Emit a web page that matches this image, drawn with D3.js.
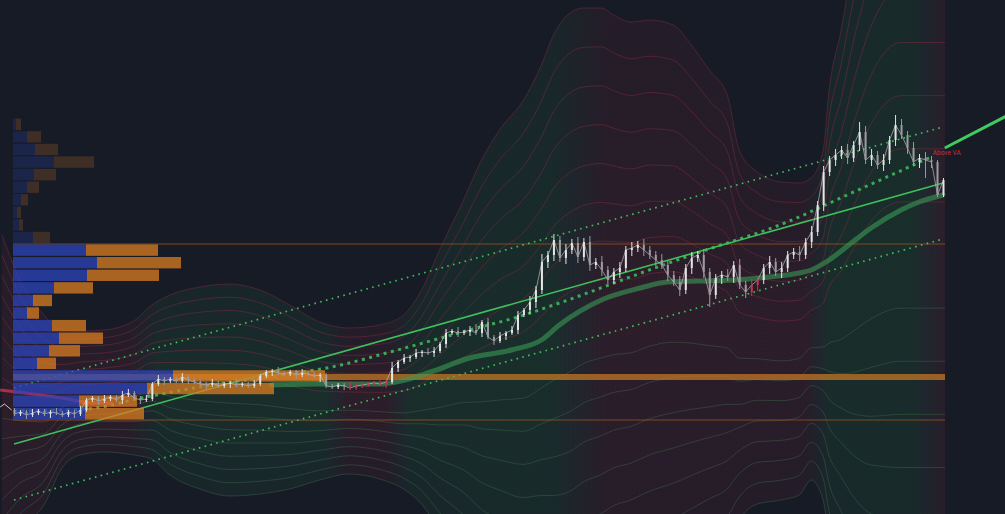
<!DOCTYPE html>
<html>
<head>
<meta charset="utf-8">
<script src="https://cdn.jsdelivr.net/npm/d3@7"></script>
<style>
html, body { margin: 0; padding: 0; background: #171b26; }
svg { display: block; }
</style>
</head>
<body>
<svg id="chart" width="1005" height="514"></svg>
<script>

// price closes, one per bar
var closes = [
	106,108,105,107,109,106,108,107,105,108,106,110,
	120,122,119,121,123,120,125,127,122,120,121,
	136,141,139,141,139,143,140,138,136,135,137,134,136,137,135,136,134,136,144,
	148,149,147,146,148,145,147,146,144,145,
	134,133,135,134,132,134,135,136,137,136,138,
	152,158,
	162,163,167,168,167,169,176,187,189,187,188,190,187,198,183,179,184,187,190,205,210,218,230,
	258,265,280,262,270,277,263,278,255,258,250,240,248,252,270,272,275,270,265,260,255,245,238,230,
	252,262,265,248,225,242,245,243,255,235,228,235,240,252,258,248,252,265,268,265,278,288,315,348,
	360,365,370,362,375,388,360,365,355,360,380,395,385,372,358,362,360,358,325,340
];
// wick lengths above / below the body (one digit per bar)
var wickUp = "1112111211121112112211212111211112111211" +
	"2111211121111111211112131212122121212312" +
	"1212213242323232323223232322322323232223" +
	"2323223232232323232325332325323232";
var wickDn = "1121112111211121112112111211121121112111" +
	"1112111211131112111111212121212121212121" +
	"2121212323323232323223232323232323236232" +
	"3232323232232323232323232323232393";
var redBars = [56,57,58,59,60,61,62,123,124];

// price before the first bar
var preIdx = [-2.3, -1.6, -1.0, -0.4];
var preVal = [113, 116, 113, 110];

// envelope: basis and half width
var bandIdx = [-2,1,5,8,11,15,20,23,26,31,36,41,46,51,56,61,65,68,71,75,78,81,85,88,90,93,95,98,100,103,106,110,113,116,119,121,124,128,131,133,135,136,138,140,143,148,156];
var bandMid = [122,115,110,121,127,129,132,138,135,132,130,128,123,119,119,118,118,123,130,140,145,150,155,168,178,189,196,201,203,204,210,213,210,205,200,185,182,179,181,191,195,205,215,230,250,265,265];
var bandW   = [163,125,95,69,62,61,67,77,90,101,106,102,92,79,73,77,87,107,140,180,215,240,265,287,307,319,316,311,302,294,290,282,265,245,225,185,166,159,156,151,175,225,275,330,390,425,425];
var bandLevels = 8;

// trend regime behind the envelope (1 = bull, 0 = bear)
var regimeAt   = [-2,19,24,52,56,62,66,90,99,132,136,150,156];
var regimeBull = [0,0,1,1,0,0,1,1,0,0,1,1,0];

// volume profile rows, bottom to top
var profLow = 100, profHigh = 402;
var profBuy  = [72,66,134,160,24,36,46,39,14,20,41,74,84,73,20,6,4,8,14,21,41,22,14,3];
var profSell = [59,58,127,152,19,31,44,34,12,19,39,72,84,72,17,4,4,7,12,22,40,23,14,5];
var vaLow = 100, vaHigh = 276, poc = 143;

// regression channel
var regStart = 76, regEnd = 337, regDev = 56;

// anchored average (dotted) and its projection
var vwIdx = [0,12,22,31,42,53,64,76,84,91,106,114,129,139,153];
var vwVal = [109,111,123,133,143,153,170,190,203,217,250,267,298,325,363];
var projIdx = [155.3, 165.6];
var projVal = [372, 404];

// slow moving average
var maIdx = [43,51,61,64.5,69.5,76,83,88,91,98,104.5,109,114.5,120,126,131,133,136,139.5,143,148,151,155];
var maVal = [135,136,136,139,148,162,170,180,195,220,232,238,239,240,243,247,250,260,276,292,310,318,325];

// red average on the left
var redIdx = [-2.3, 3.3, 9, 13, 16.5];
var redVal = [130, 126, 121, 117, 117];


var W = 1005, H = 514, plotRight = 945;
var svg = d3.select('#chart');

var x = d3.scaleLinear().domain([0, 155]).range([14, 943]);
var y = d3.scaleLinear().domain([0, 520]).range([520, 0]);
var vol = d3.scaleLinear().domain([0, 320]).range([13, 333]);

svg.append('rect').attr('width', W).attr('height', H).attr('fill', '#171b26');

var defs = svg.append('defs');
defs.append('clipPath').attr('id', 'plot')
	.append('rect').attr('x', 0).attr('y', 0).attr('width', plotRight).attr('height', H);

// horizontal gradient following the regime
var gx0 = x(regimeAt[0]), gx1 = x(regimeAt[regimeAt.length - 1]);
var grad = defs.append('linearGradient').attr('id', 'regime')
	.attr('gradientUnits', 'userSpaceOnUse')
	.attr('x1', gx0).attr('x2', gx1).attr('y1', 0).attr('y2', 0);
regimeAt.forEach(function(r, i){
	grad.append('stop')
		.attr('offset', (x(r) - gx0) / (gx1 - gx0))
		.attr('stop-color', regimeBull[i] ? 'rgb(45,170,95)' : 'rgb(190,45,75)');
});

var band = bandIdx.map(function(d, i){ return { i: d, c: bandMid[i], w: bandW[i] }; });

var bandG = svg.append('g').attr('clip-path', 'url(#plot)');

// fills, outer one first
for (var k = bandLevels; k >= 1; k--) {
	(function(k){
		var area = d3.area()
			.x(function(d){ return x(d.i) })
			.y0(function(d){ return y(d.c - d.w * k / bandLevels) })
			.y1(function(d){ return y(d.c + d.w * k / bandLevels) })
			.curve(d3.curveMonotoneX);
		bandG.append('path').datum(band)
			.attr('d', area)
			.attr('fill', 'url(#regime)')
			.attr('fill-opacity', k == bandLevels ? 0.08 : 0.007);
	})(k);
}
// contour lines
for (var k = 1; k <= bandLevels; k++) {
	(function(k){
		var up = d3.line()
			.x(function(d){ return x(d.i) })
			.y(function(d){ return y(d.c + d.w * k / bandLevels) })
			.curve(d3.curveMonotoneX);
		var dn = d3.line()
			.x(function(d){ return x(d.i) })
			.y(function(d){ return y(d.c - d.w * k / bandLevels) })
			.curve(d3.curveMonotoneX);
		bandG.append('path').datum(band).attr('d', up)
			.attr('fill', 'none').attr('stroke', 'rgb(150,45,65)').attr('stroke-opacity', 0.4).attr('stroke-width', 1);
		bandG.append('path').datum(band).attr('d', dn)
			.attr('fill', 'none').attr('stroke', 'rgb(70,120,80)').attr('stroke-opacity', 0.36).attr('stroke-width', 1);
	})(k);
}

// value area lines and POC
svg.append('line').attr('x1', vol(0)).attr('x2', plotRight)
	.attr('y1', y(vaHigh)).attr('y2', y(vaHigh))
	.attr('stroke', '#9a531c').attr('stroke-opacity', 0.8).attr('stroke-width', 1.2);
svg.append('line').attr('x1', vol(0)).attr('x2', plotRight)
	.attr('y1', y(vaLow)).attr('y2', y(vaLow))
	.attr('stroke', '#9a531c').attr('stroke-opacity', 0.8).attr('stroke-width', 1.2);
svg.append('line').attr('x1', vol(0)).attr('x2', plotRight)
	.attr('y1', y(poc)).attr('y2', y(poc))
	.attr('stroke', '#c27524').attr('stroke-opacity', 0.75).attr('stroke-width', 6);

// regression channel
var regLine = function(off){
	return d3.line()
		.x(function(d){ return x(d[0]) })
		.y(function(d){ return y(d[1] + off) })([[0, regStart], [155, regEnd]]);
};
svg.append('path').attr('d', regLine(0))
	.attr('fill', 'none').attr('stroke', '#3fbf5c').attr('stroke-width', 1.6);
[regDev, -regDev].forEach(function(off){
	svg.append('path').attr('d', regLine(off))
		.attr('fill', 'none').attr('stroke', '#3fbf5c').attr('stroke-width', 1.7)
		.attr('stroke-dasharray', '1.6,4.4');
});

// slow moving average
var lineOf = function(ix, vals){
	return d3.line()
		.x(function(d){ return x(d) })
		.y(function(d, i){ return y(vals[i]) })
		.curve(d3.curveMonotoneX)(ix);
};
svg.append('path').attr('d', lineOf(maIdx, maVal))
	.attr('fill', 'none').attr('stroke', '#3a9a55').attr('stroke-opacity', 0.6)
	.attr('stroke-width', 5).attr('stroke-linecap', 'round');

// anchored average, dotted
svg.append('path').attr('d', lineOf(vwIdx, vwVal))
	.attr('fill', 'none').attr('stroke', '#40c060').attr('stroke-opacity', 0.85)
	.attr('stroke-width', 3).attr('stroke-dasharray', '3,4.5');

// red average on the left
svg.append('path').attr('d', lineOf(redIdx, redVal))
	.attr('fill', 'none').attr('stroke', '#c4304e').attr('stroke-opacity', 0.85)
	.attr('stroke-width', 3);

// volume profile
var rowH = (profHigh - profLow) / profBuy.length;
var prof = svg.append('g');
profBuy.forEach(function(b, r){
	var lo = profLow + r * rowH, hi = lo + rowH;
	var inVA = lo >= vaLow - 0.5 && hi <= vaHigh + 0.5;
	var top = y(hi) + 0.6, h = y(lo) - y(hi) - 1.2;
	prof.append('rect')
		.attr('x', vol(0)).attr('y', top).attr('width', vol(b) - vol(0)).attr('height', h)
		.attr('fill', '#2b45bd').attr('fill-opacity', inVA ? 0.74 : 0.24);
	prof.append('rect')
		.attr('x', vol(b)).attr('y', top).attr('width', vol(b + profSell[r]) - vol(b)).attr('height', h)
		.attr('fill', '#dc7d22').attr('fill-opacity', inVA ? 0.74 : 0.2);
});

// price before the first bar
svg.append('path').attr('d', d3.line()
		.x(function(d){ return x(d) })
		.y(function(d, i){ return y(preVal[i]) })(preIdx))
	.attr('fill', 'none').attr('stroke', '#c8c8c8').attr('stroke-width', 1);

// candles
var bars = closes.map(function(c, i){
	var o = i ? closes[i - 1] : preVal[preVal.length - 1];
	return {
		i: i, o: o, c: c,
		h: Math.max(o, c) + (+wickUp[i] || 1) * 2,
		l: Math.min(o, c) - (+wickDn[i] || 1) * 2
	};
});
var candleColor = function(d){
	if (redBars.indexOf(d.i) >= 0) return '#cc3350';
	return d.c >= d.o ? '#e4e4e4' : '#9c9ca0';
};
var cg = svg.append('g');
// thin trace joining the bars
cg.append('path').datum(bars)
	.attr('d', d3.line()
		.x(function(d){ return x(d.i) + 0.5 })
		.y(function(d){ return y(d.c) }))
	.attr('fill', 'none').attr('stroke', '#b8b8bc').attr('stroke-opacity', 0.7).attr('stroke-width', 1);
cg.selectAll('line.wick').data(bars).enter().append('line')
	.attr('class', 'wick')
	.attr('x1', function(d){ return x(d.i) + 0.5 })
	.attr('x2', function(d){ return x(d.i) + 0.5 })
	.attr('y1', function(d){ return y(d.h) })
	.attr('y2', function(d){ return y(d.l) })
	.attr('stroke', candleColor).attr('stroke-width', 1);
cg.selectAll('rect.body').data(bars).enter().append('rect')
	.attr('class', 'body')
	.attr('x', function(d){ return x(d.i) - 0.5 })
	.attr('width', 2)
	.attr('y', function(d){ return y(Math.max(d.o, d.c)) })
	.attr('height', function(d){ return Math.max(1, Math.abs(y(d.o) - y(d.c))) })
	.attr('fill', candleColor);

// projection out of the plot
svg.append('path').attr('d', d3.line()
		.x(function(d){ return x(d) })
		.y(function(d, i){ return y(projVal[i]) })(projIdx))
	.attr('fill', 'none').attr('stroke', '#3ecb60').attr('stroke-width', 3);

svg.append('text')
	.attr('x', x(153.3)).attr('y', y(365))
	.attr('font-family', 'Roboto, "Noto Sans", sans-serif')
	.attr('font-size', 6.5)
	.attr('fill', '#c4303f')
	.text('Above VA');

</script>
</body>
</html>
